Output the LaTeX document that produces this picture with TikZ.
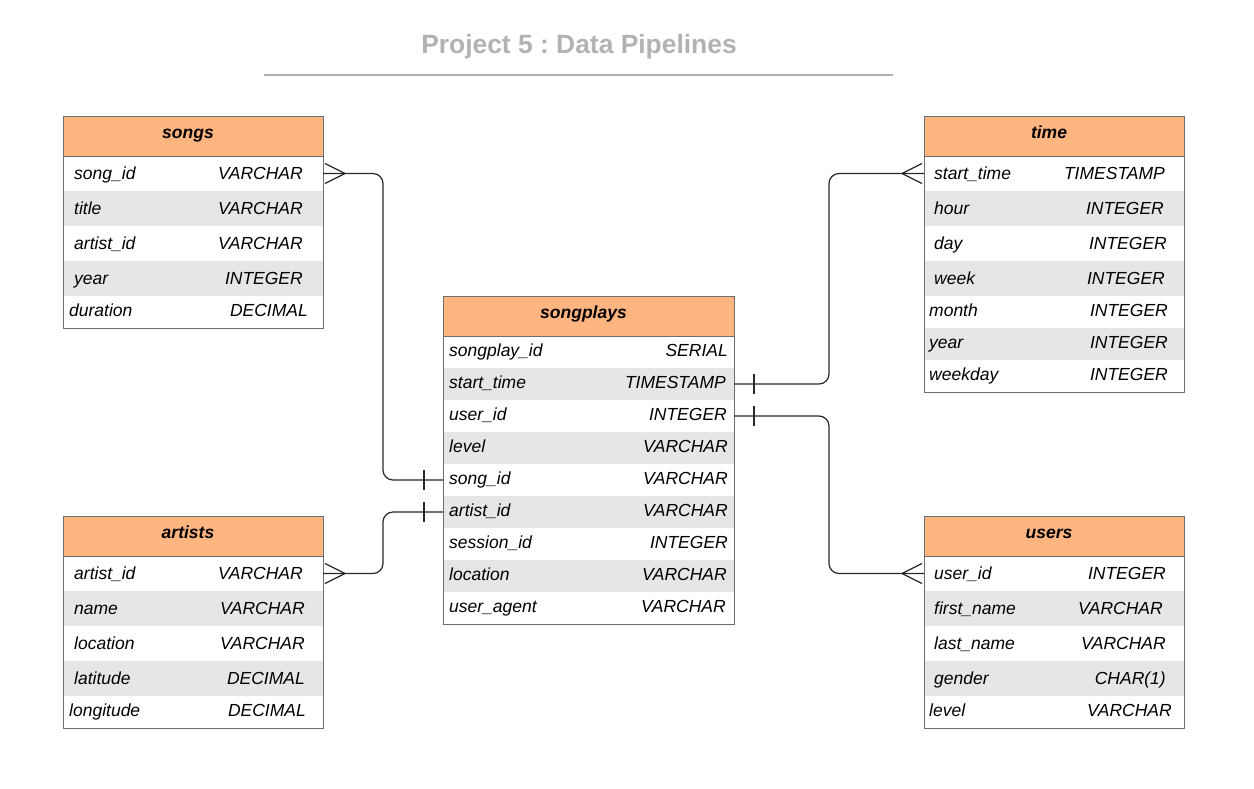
\documentclass[tikz,border=0pt]{standalone}
\usepackage{fontspec}
\setmainfont{Liberation Sans}
\usetikzlibrary{calc}
\frenchspacing
\definecolor{hdr}{RGB}{255,181,128}
\definecolor{alt}{RGB}{230,230,230}
\definecolor{bord}{RGB}{110,110,110}
\definecolor{ttl}{RGB}{178,178,178}
\definecolor{conn}{RGB}{40,40,40}
\tikzset{
  rowbox/.style={anchor=north west, inner sep=0pt, outer sep=0pt, draw=none},
  cell/.style={inner sep=0pt, font=\fontsize{17.5}{20}\selectfont\itshape},
  hdrbox/.style={anchor=north west, inner sep=0pt, outer sep=0pt, fill=hdr, draw=bord, line width=1pt},
  hdrtext/.style={inner sep=0pt, anchor=base, font=\fontsize{17.5}{20}\selectfont\bfseries\itshape},
  tframe/.style={draw=bord, line width=1pt},
  link/.style={draw=conn, line width=1.2pt, rounded corners=10pt},
  erdsym/.style={draw=conn, line width=1.2pt},
}
\newcommand\erow[9]{%
  \node[rowbox, fill=#5, minimum width=#3, minimum height=#4] (#1) at (#2) {};
  \node[cell, anchor=base west] (#1-k) at ($(#1.south west)+(#6,-11.5)$) {#7};
  \node[cell, anchor=base east] (#1-t) at ($(#1.south east)+(-#8,-11.5)$) {#9};
}
\newcommand\ehead[4]{%
  \node[hdrbox, minimum width=#3, minimum height=40pt] (#1) at (#2) {};
  \node[hdrtext] (#1-txt) at ($(#1.north)+(-5,22.5)$) {#4};
}
\begin{document}
\begin{tikzpicture}[x=1pt,y=-1pt]
\useasboundingbox[fill=white] (0,0) rectangle (1254,788);

% title
\node[inner sep=0pt, anchor=base, text=ttl, font=\fontsize{26.4}{30}\selectfont\bfseries] (title) at (579,53) {Project 5 : Data Pipelines};
\coordinate (rulel) at (264,75);
\coordinate (ruler) at (893,75);
\draw[draw=ttl, line width=2pt] (rulel) -- (ruler);

% songs
\erow{songs-songid}{63,156}{260pt}{35pt}{white}{11}{song\_id}{20}{VARCHAR}
\erow{songs-title}{63,191}{260pt}{35pt}{alt}{11}{title}{20}{VARCHAR}
\erow{songs-artistid}{63,226}{260pt}{35pt}{white}{11}{artist\_id}{20}{VARCHAR}
\erow{songs-year}{63,261}{260pt}{35pt}{alt}{11}{year}{20}{INTEGER}
\erow{songs-duration}{63,296}{260pt}{32pt}{white}{6}{duration}{15}{DECIMAL}
\ehead{songs-hdr}{63,116}{260pt}{songs}
\draw[tframe] (songs-hdr.north west) rectangle (songs-duration.south east);

% time
\erow{time-starttime}{924,156}{260pt}{35pt}{white}{10}{start\_time}{19}{TIMESTAMP}
\erow{time-hour}{924,191}{260pt}{35pt}{alt}{10}{hour}{20}{INTEGER}
\erow{time-day}{924,226}{260pt}{35pt}{white}{10}{day}{17}{INTEGER}
\erow{time-week}{924,261}{260pt}{35pt}{alt}{10}{week}{19}{INTEGER}
\erow{time-month}{924,296}{260pt}{32pt}{white}{5}{month}{16}{INTEGER}
\erow{time-year}{924,328}{260pt}{32pt}{alt}{5}{year}{16}{INTEGER}
\erow{time-weekday}{924,360}{260pt}{32pt}{white}{5}{weekday}{16}{INTEGER}
\ehead{time-hdr}{924,116}{260pt}{time}
\draw[tframe] (time-hdr.north west) rectangle (time-weekday.south east);

% songplays
\erow{sp-songplayid}{443,336}{291pt}{32pt}{white}{6}{songplay\_id}{6}{SERIAL}
\erow{sp-starttime}{443,368}{291pt}{32pt}{alt}{6}{start\_time}{8}{TIMESTAMP}
\erow{sp-userid}{443,400}{291pt}{32pt}{white}{6}{user\_id}{7}{INTEGER}
\erow{sp-level}{443,432}{291pt}{32pt}{alt}{6}{level}{6}{VARCHAR}
\erow{sp-songid}{443,464}{291pt}{32pt}{white}{6}{song\_id}{6}{VARCHAR}
\erow{sp-artistid}{443,496}{291pt}{32pt}{alt}{6}{artist\_id}{6}{VARCHAR}
\erow{sp-sessionid}{443,528}{291pt}{32pt}{white}{6}{session\_id}{6}{INTEGER}
\erow{sp-location}{443,560}{291pt}{32pt}{alt}{6}{location}{7}{VARCHAR}
\erow{sp-useragent}{443,592}{291pt}{32pt}{white}{6}{user\_agent}{8}{VARCHAR}
\ehead{sp-hdr}{443,296}{291pt}{songplays}
\draw[tframe] (sp-hdr.north west) rectangle (sp-useragent.south east);

% artists
\erow{ar-artistid}{63,556}{260pt}{35pt}{white}{11}{artist\_id}{20}{VARCHAR}
\erow{ar-name}{63,591}{260pt}{35pt}{alt}{11}{name}{18}{VARCHAR}
\erow{ar-location}{63,626}{260pt}{35pt}{white}{11}{location}{18}{VARCHAR}
\erow{ar-latitude}{63,661}{260pt}{35pt}{alt}{11}{latitude}{18}{DECIMAL}
\erow{ar-longitude}{63,696}{260pt}{32pt}{white}{6}{longitude}{17}{DECIMAL}
\ehead{ar-hdr}{63,516}{260pt}{artists}
\draw[tframe] (ar-hdr.north west) rectangle (ar-longitude.south east);

% users
\erow{us-userid}{924,556}{260pt}{35pt}{white}{10}{user\_id}{18}{INTEGER}
\erow{us-firstname}{924,591}{260pt}{35pt}{alt}{10}{first\_name}{21}{VARCHAR}
\erow{us-lastname}{924,626}{260pt}{35pt}{white}{10}{last\_name}{18}{VARCHAR}
\erow{us-gender}{924,661}{260pt}{35pt}{alt}{10}{gender}{18}{CHAR(1)}
\erow{us-level}{924,696}{260pt}{32pt}{white}{5}{level}{12}{VARCHAR}
\ehead{us-hdr}{924,516}{260pt}{users}
\draw[tframe] (us-hdr.north west) rectangle (us-level.south east);

% connectors
\draw[link] (songs-songid.east) -- ++(60,0) |- (sp-songid.west);
\draw[link] (ar-artistid.east) -- ++(60,0) |- (sp-artistid.west);
\draw[link] (sp-starttime.east) -- ++(95,0) |- (time-starttime.west);
\draw[link] (sp-userid.east) -- ++(95,0) |- (us-userid.west);

% crow's feet (many)
\draw[erdsym] ($(songs-songid.east)+(2,-10)$) -- ($(songs-songid.east)+(22,0)$) -- ($(songs-songid.east)+(2,10)$);
\draw[erdsym] ($(ar-artistid.east)+(2,-10)$) -- ($(ar-artistid.east)+(22,0)$) -- ($(ar-artistid.east)+(2,10)$);
\draw[erdsym] ($(time-starttime.west)+(-2,-10)$) -- ($(time-starttime.west)+(-22,0)$) -- ($(time-starttime.west)+(-2,10)$);
\draw[erdsym] ($(us-userid.west)+(-2,-10)$) -- ($(us-userid.west)+(-22,0)$) -- ($(us-userid.west)+(-2,10)$);

% one ticks
\draw[erdsym] ($(sp-songid.west)+(-19,-10)$) -- ($(sp-songid.west)+(-19,10)$);
\draw[erdsym] ($(sp-artistid.west)+(-19,-10)$) -- ($(sp-artistid.west)+(-19,10)$);
\draw[erdsym] ($(sp-starttime.east)+(20,-10)$) -- ($(sp-starttime.east)+(20,10)$);
\draw[erdsym] ($(sp-userid.east)+(20,-10)$) -- ($(sp-userid.east)+(20,10)$);
\end{tikzpicture}
\end{document}
